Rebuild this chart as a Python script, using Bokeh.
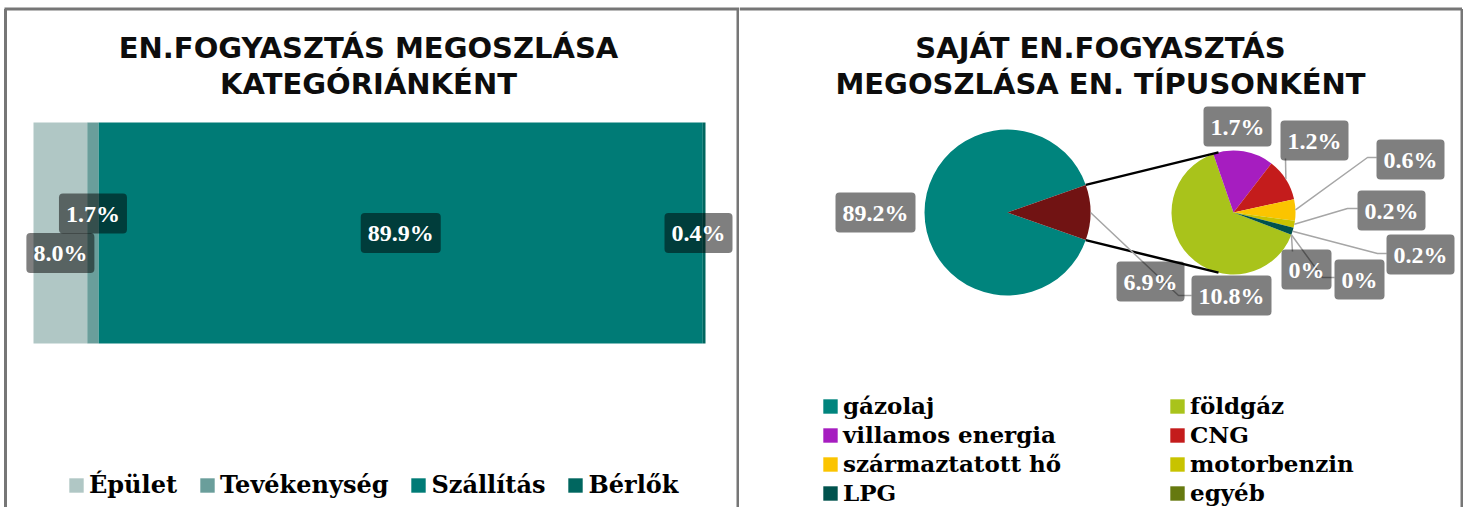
import math
from bokeh.plotting import figure
from bokeh.models import Range1d, Label, Legend, LegendItem, ColumnDataSource
from bokeh.layouts import row
from bokeh.embed import file_html
from bokeh.resources import INLINE

# ---------------- data ----------------
bar_categories = ["Épület", "Tevékenység", "Szállítás", "Bérlők"]
bar_values = [8.0, 1.7, 89.9, 0.4]
bar_colors = ["#B0C7C5", "#6A9E9B", "#007B76", "#00665F"]

energy_types = ["gázolaj", "földgáz", "villamos energia", "CNG",
                "származtatott hő", "motorbenzin", "LPG", "egyéb", ""]
energy_values = [89.2, 6.9, 1.7, 1.2, 0.6, 0.2, 0.2, 0.0, 0.0]
energy_colors = ["#00847D", "#A9C31B", "#A61DC0", "#C41C1C",
                 "#FBC400", "#C8C300", "#00524D", "#66790F", "#66790F"]
other_color = "#711313"

left_title = ["EN.FOGYASZTÁS MEGOSZLÁSA", "KATEGÓRIÁNKÉNT"]
right_title = ["SAJÁT EN.FOGYASZTÁS", "MEGOSZLÁSA EN. TÍPUSONKÉNT"]

# ---------------- layout / style ----------------
W_L, W_R, H = 739, 724, 507
BORDER = "#767676"
TITLE_FONT = "DejaVu Sans"
TITLE_SIZE = "29px"
LBL_FONT = "Liberation Serif"
LBL_SIZE = "24px"
LEG_FONT = "DejaVu Serif"
LEADER = "#A6A6A6"


def fmt(v):
    return "0%" if v == 0 else f"{v:.1f}%"


def label_kw():
    return dict(text_font=LBL_FONT, text_font_style="bold", text_font_size=LBL_SIZE,
                text_color="white", text_align="center", text_baseline="middle",
                background_fill_color="black", background_fill_alpha=0.5,
                border_radius=4, padding=7)


def title_kw():
    return dict(text_font=TITLE_FONT, text_font_style="bold", text_font_size=TITLE_SIZE,
                text_color="#0D0D0D", text_align="center", text_baseline="middle")


def legend_kw(size):
    return dict(glyph_width=18, glyph_height=18, label_standoff=4,
                label_text_font=LEG_FONT, label_text_font_style="bold", label_text_font_size=size,
                label_text_color="black", border_line_color=None, background_fill_alpha=0,
                padding=0, margin=0)


def new_fig(w, xr):
    p = figure(width=w, height=H, x_range=xr, y_range=Range1d(-H, 0),
               x_axis_type=None, y_axis_type=None, toolbar_location=None,
               output_backend="svg", min_border=0, outline_line_color=None,
               background_fill_color="white", border_fill_color="white")
    p.grid.visible = False
    return p


# ================= left panel: stacked bar =================
X0_PX, X1_PX = 33, 705          # pixel positions of 0% and 100%
ppp = (X1_PX - X0_PX) / 100.0


def px2pct(px):
    return (px - X0_PX) / ppp


pL = new_fig(W_L, Range1d(px2pct(0), px2pct(W_L)))

BAR_CY, BAR_H = 232.5, 221
lefts = []
acc = 0.0
for v in bar_values:
    lefts.append(acc)
    acc += v

bar_renderers = []
for cat, v, l, col in zip(bar_categories, bar_values, lefts, bar_colors):
    src = ColumnDataSource(dict(y=[-BAR_CY], left=[l], right=[l + v]))
    r = pL.hbar(y="y", left="left", right="right", height=BAR_H, source=src,
                fill_color=col, line_color=None)
    bar_renderers.append(r)

BAR_LABEL_DY = [20, -19.5, 0, 0]
LABEL_MAX_PX = 698
for v, l, dy in zip(bar_values, lefts, BAR_LABEL_DY):
    cx = min(X0_PX + (l + v / 2) * ppp, LABEL_MAX_PX)
    pL.add_layout(Label(x=cx, x_units="screen", y=-(BAR_CY + dy), text=fmt(v), **label_kw()))

for i, t in enumerate(left_title):
    pL.add_layout(Label(x=368, x_units="screen", y=-(47 + 36 * i), text=t, **title_kw()))

leg_L = Legend(items=[LegendItem(label=c, renderers=[r]) for c, r in zip(bar_categories, bar_renderers)],
               orientation="horizontal", location=(67, 8), spacing=21, **legend_kw("24px"))
pL.add_layout(leg_L)

# frame lines
pL.segment(x0=[px2pct(4), px2pct(5), px2pct(737.5)],
           y0=[-8.5, -8.5, -8.5],
           x1=[px2pct(W_L), px2pct(5), px2pct(737.5)],
           y1=[-8.5, -H, -H], line_color=BORDER, line_width=3)

# ================= right panel: pie of pie =================
pR = new_fig(W_R, Range1d(0, W_R))
OX = 739


def P(px, py):
    return (px - OX, -py)


MAIN_C = P(1007, 212)
SEC_C = P(1233, 212)
R1, R2 = 83, 62
SEC_START_DEG = -21.0
CONNECT_DEG = 104.0

other_val = sum(energy_values[1:])
half = other_val / 100.0 * math.pi

renderers = {}
renderers[0] = pR.wedge(x=[MAIN_C[0]], y=[MAIN_C[1]], radius=R1, start_angle=half,
                        end_angle=2 * math.pi - half, fill_color=energy_colors[0], line_color=None)
pR.wedge(x=[MAIN_C[0]], y=[MAIN_C[1]], radius=R1, start_angle=-half, end_angle=half,
         fill_color=other_color, line_color=None)

k = 2 * math.pi / other_val
a = math.radians(SEC_START_DEG)
mid_angle = {}
for i in range(1, len(energy_values)):
    v = energy_values[i]
    a_end = a - v * k
    src = ColumnDataSource(dict(x=[SEC_C[0]], y=[SEC_C[1]], s=[a_end], e=[a],
                                r=[R2 if v > 0 else 0]))
    renderers[i] = pR.wedge(x="x", y="y", radius="r", start_angle="s", end_angle="e",
                            source=src, fill_color=energy_colors[i], line_color=None)
    mid_angle[i] = (a + a_end) / 2
    a = a_end

# connector lines between the two pies
ca = math.radians(CONNECT_DEG)
pR.segment(x0=[MAIN_C[0] + R1 * math.cos(half), MAIN_C[0] + R1 * math.cos(-half)],
           y0=[MAIN_C[1] + R1 * math.sin(half), MAIN_C[1] + R1 * math.sin(-half)],
           x1=[SEC_C[0] + R2 * math.cos(ca), SEC_C[0] + R2 * math.cos(-ca)],
           y1=[SEC_C[1] + R2 * math.sin(ca), SEC_C[1] + R2 * math.sin(-ca)],
           line_color="black", line_width=2.5)

# data labels (positions in reference pixels) and leader paths
label_pos = {0: (875, 212), 1: (1150, 281), 2: (1237, 126), 3: (1314, 140),
             4: (1410, 159), 5: (1391, 210), 6: (1420, 254), 7: (1306, 269), 8: (1359, 279)}
leader_path = {3: [(1285, 158)], 4: [(1367, 157), (1376, 157)],
               5: [(1347, 208), (1357, 208)], 6: [(1377, 253), (1386, 253)],
               7: [(1292, 251)], 8: [(1322, 277), (1334, 277)]}
other_label_pos = (1231, 295)
other_leader = [(1178, 295), (1191, 295)]

xs, ys = [], []
pts = [P(*q) for q in other_leader]
xs.append([MAIN_C[0] + R1] + [q[0] for q in pts])
ys.append([MAIN_C[1]] + [q[1] for q in pts])
for i, path in leader_path.items():
    sx = SEC_C[0] + R2 * math.cos(mid_angle[i])
    sy = SEC_C[1] + R2 * math.sin(mid_angle[i])
    pts = [P(*q) for q in path]
    xs.append([sx] + [q[0] for q in pts])
    ys.append([sy] + [q[1] for q in pts])
pR.multi_line(xs=xs, ys=ys, line_color=LEADER, line_width=1.5)

for i, v in enumerate(energy_values):
    x, y = P(*label_pos[i])
    pR.add_layout(Label(x=x, y=y, text=fmt(v), **label_kw()))
ox, oy = P(*other_label_pos)
pR.add_layout(Label(x=ox, y=oy, text=fmt(other_val), **label_kw()))

for i, t in enumerate(right_title):
    pR.add_layout(Label(x=361, y=-(47 + 36 * i), text=t, **title_kw()))


def make_legend(idx, loc):
    return Legend(items=[LegendItem(label=energy_types[i], renderers=[renderers[i]]) for i in idx],
                  orientation="vertical", location=loc, spacing=2, **legend_kw("23px"))


pR.add_layout(make_legend([0, 2, 4, 6], (82, 1)))
pR.add_layout(make_legend([1, 3, 5, 7], (429, 1)))

# frame lines
pR.segment(x0=[0, W_R - 1.5], y0=[-8.5, -8.5], x1=[W_R - 1.5, W_R - 1.5], y1=[-8.5, -H],
           line_color=BORDER, line_width=3)

layout = row(pL, pR)
open("out.html", "w").write(file_html(layout, INLINE))
